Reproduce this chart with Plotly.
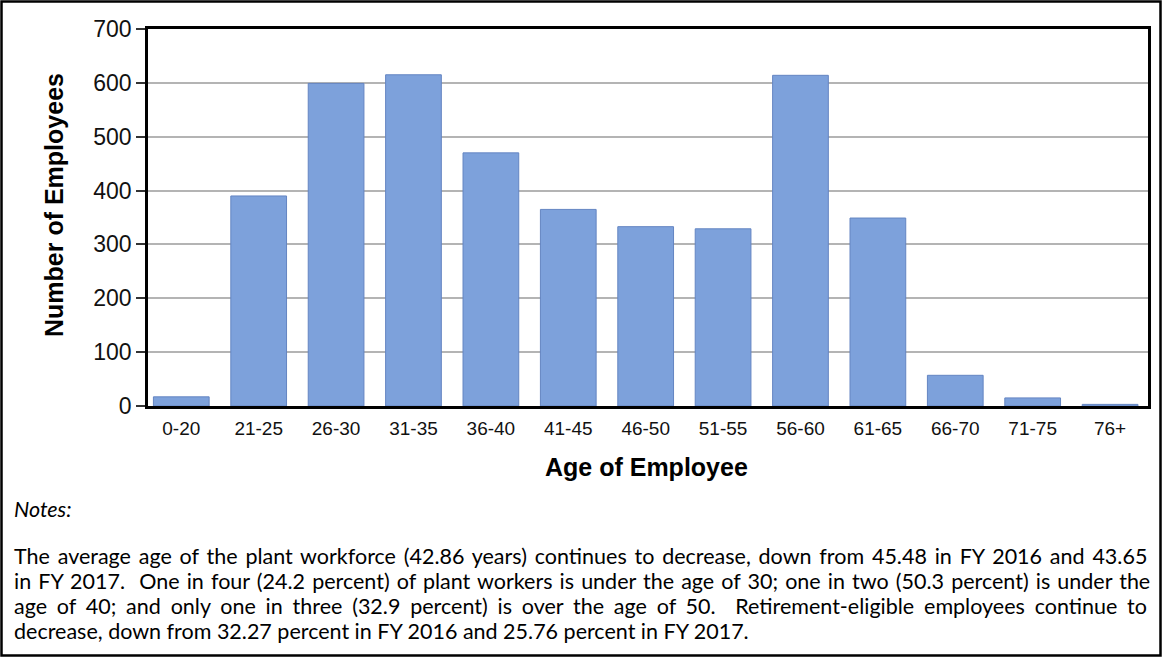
import plotly.graph_objects as go

categories = ["0-20", "21-25", "26-30", "31-35", "36-40", "41-45", "46-50",
              "51-55", "56-60", "61-65", "66-70", "71-75", "76+"]
employees = [17, 390, 599, 615, 470, 365, 333, 329, 614, 349, 57, 15, 3]
y_ticks = [0, 100, 200, 300, 400, 500, 600, 700]

notes_title = "Notes:"
notes_lines = [
    "The average age of the plant workforce (42.86 years) continues to decrease, down from 45.48 in FY 2016 and 43.65",
    "in FY 2017.  One in four (24.2 percent) of plant workers is under the age of 30; one in two (50.3 percent) is under the",
    "age of 40; and only one in three (32.9 percent) is over the age of 50.  Retirement-eligible employees continue to",
    "decrease, down from 32.27 percent in FY 2016 and 25.76 percent in FY 2017.",
]
# extra word spacing (px) used to imitate the justified paragraph
notes_word_spacing = [2.3, 1.6, 4.3, 0]

W, H = 1162, 657
L, R, T, B = 148, 14, 29, 251
PW = W - L - R
PH = H - T - B


def px(x):
    return (x - L) / PW


def py(y):
    return (H - B - y) / PH


fig = go.Figure()
fig.add_trace(go.Bar(
    x=categories, y=employees,
    marker=dict(color="#7da1db", line=dict(color="#6485c2", width=1)),
    hoverinfo="x+y",
))

fig.update_layout(
    width=W, height=H,
    margin=dict(l=L, r=R, t=T, b=B),
    paper_bgcolor="white", plot_bgcolor="white",
    bargap=0.28,
    showlegend=False,
    font=dict(family="Liberation Sans, Arial, sans-serif", color="black"),
)
fig.update_xaxes(
    type="category", range=[-0.43, 12.49],
    showline=True, linecolor="black", linewidth=2.5, mirror=True,
    ticks="", tickfont=dict(size=19, color="#111"),
    ticklabelstandoff=3,
    showgrid=False, zeroline=False,
)
fig.update_yaxes(
    range=[0, 700], tickvals=y_ticks,
    showline=True, linecolor="black", linewidth=2.5, mirror=True,
    ticks="outside", ticklen=9, tickwidth=1.5, tickcolor="#333",
    tickfont=dict(size=23, color="#111"),
    ticklabelstandoff=0,
    showgrid=True, gridcolor="#b4b4b4", gridwidth=1.5,
    zeroline=False,
)

note_font = dict(size=21.5, family="Lato, sans-serif", color="black")
annotations = [
    dict(text="<b>Age of Employee</b>", x=px(646), y=py(467), xref="paper", yref="paper",
         xanchor="center", yanchor="middle", showarrow=False,
         font=dict(size=25, family="Liberation Sans, Arial, sans-serif", color="black")),
    dict(text="<b>Number of Employees</b>", x=px(54), y=py(205), xref="paper", yref="paper",
         xanchor="center", yanchor="middle", showarrow=False, textangle=-90,
         font=dict(size=25, family="Liberation Sans, Arial, sans-serif", color="black")),
    dict(text="<i>" + notes_title + "</i>", x=px(12), y=py(509), xref="paper", yref="paper",
         xanchor="left", yanchor="middle", showarrow=False, font=note_font),
]
line_y = [556, 581, 606, 631]
for txt, yy, ws in zip(notes_lines, line_y, notes_word_spacing):
    annotations.append(dict(text='<span style="word-spacing:%.1fpx">%s</span>' % (ws, txt),
                            x=px(12), y=py(yy), xref="paper", yref="paper",
                            xanchor="left", yanchor="middle", showarrow=False,
                            font=note_font))
fig.update_layout(annotations=annotations)

fig.add_shape(type="rect", xref="paper", yref="paper",
              x0=px(1.5), x1=px(1160.5), y0=py(655.5), y1=py(1.5),
              line=dict(color="black", width=2.5), fillcolor="rgba(0,0,0,0)")

fig.write_html("out.html", config={"displayModeBar": False},
               post_script="document.body.style.margin='0';")
